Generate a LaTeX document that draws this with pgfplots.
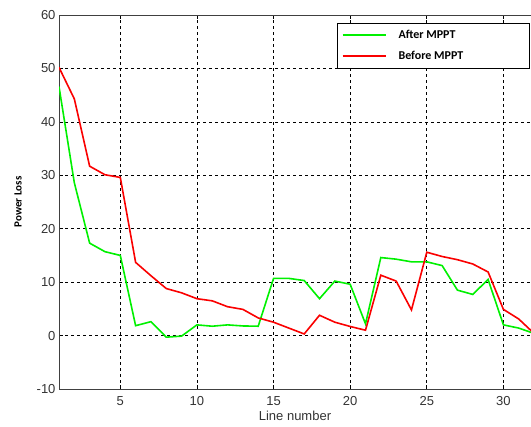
\documentclass[border=0pt]{standalone}
\usepackage{fontspec}
\setmainfont{Liberation Sans}
\newfontfamily\calibri{Carlito}
\usepackage{pgfplots}
\pgfplotsset{compat=1.18}

\begin{document}
\begin{tikzpicture}[x=1pt,y=1pt]
\useasboundingbox (0,0) rectangle (531,427);
\begin{axis}[
  at={(59pt,38pt)}, anchor=south west,
  scale only axis, width=472pt, height=374pt,
  xmin=1, xmax=31.8, ymin=-10, ymax=60,
  xtick={5,10,...,30}, ytick={-10,0,...,60},
  axis x line*=box, axis y line*=left,
  axis line style={black!75, line width=0.8pt},
  tick style={black, line width=0.6pt},
  tick align=inside, major tick length=4pt,
  grid=major,
  major grid style={black, dashed, line width=0.6pt, dash pattern=on 3pt off 3pt},
  tick label style={font=\fontsize{13}{15}\selectfont, text=black!80},
  xticklabel style={yshift=-4pt},
  /pgf/number format/assume math mode=true,
  xlabel={Line number},
  xlabel style={font=\fontsize{13}{15}\selectfont, text=black!80, yshift=2pt},
  ylabel={\calibri\bfseries Power Loss},
  ylabel style={font=\fontsize{11}{13}\selectfont, yshift=8pt},
  legend style={at={(rel axis cs:0.588,0.979)}, anchor=north west,
    draw=black, line width=0.8pt, fill=white,
    font=\calibri\bfseries\fontsize{12}{14}\selectfont,
    inner xsep=5pt, inner ysep=5pt, row sep=7pt, column sep=10pt},
  legend cell align=left,
  legend image code/.code={\draw[#1, line width=1.6pt] (0pt,0pt) -- (43pt,0pt);},
]
\addplot[color={rgb,255:red,0;green,240;blue,0}, line width=1.6pt] coordinates {
 (1,46.6) (2,28.6) (3,17.3) (4,15.7) (5,15.0) (6,1.85) (7,2.6) (8,-0.3)
 (9,-0.1) (10,2.0) (11,1.75) (12,2.0) (13,1.8) (14,1.75) (15,10.7) (16,10.7)
 (17,10.3) (18,6.9) (19,10.2) (20,9.6) (21,2.2) (22,14.6) (23,14.3) (24,13.8)
 (25,13.8) (26,13.1) (27,8.5) (28,7.7) (29,10.5) (30,2.0) (31,1.4) (32,0.4)
};
\addlegendentry{\makebox[124pt][l]{After MPPT}}
\addplot[color={rgb,255:red,250;green,0;blue,0}, line width=1.6pt] coordinates {
 (1,50.2) (2,44.3) (3,31.7) (4,30.1) (5,29.6) (6,13.7) (7,11.2) (8,8.8)
 (9,8.0) (10,6.9) (11,6.5) (12,5.4) (13,4.9) (14,3.3) (15,2.5) (16,1.4)
 (17,0.3) (18,3.8) (19,2.5) (20,1.7) (21,1.0) (22,11.3) (23,10.2) (24,4.8)
 (25,15.6) (26,14.8) (27,14.2) (28,13.4) (29,11.9) (30,4.9) (31,3.1) (32,0.4)
};
\addlegendentry{\makebox[124pt][l]{Before MPPT}}
\end{axis}
\end{tikzpicture}
\end{document}
